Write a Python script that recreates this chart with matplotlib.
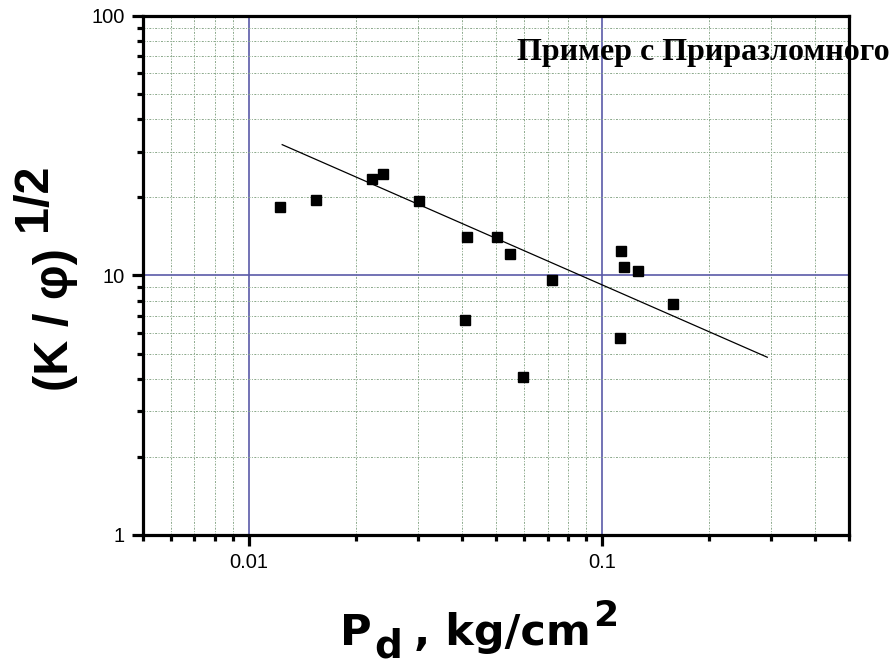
import numpy as np
import matplotlib
matplotlib.use('Agg')
import matplotlib.pyplot as plt
from matplotlib.ticker import LogLocator, FixedLocator, FixedFormatter, NullFormatter

plt.rcParams['font.family'] = ['Liberation Sans', 'DejaVu Sans']

W, H = 893, 669

# measured points
pd_vals = [0.0122, 0.0155, 0.0223, 0.0240, 0.0303, 0.0415, 0.0409, 0.0504,
           0.0549, 0.0597, 0.0722, 0.1132, 0.1154, 0.1265, 0.1589, 0.1124]
k_phi = [18.4, 19.6, 23.6, 24.5, 19.3, 14.1, 6.71, 14.1,
         12.05, 4.05, 9.57, 12.37, 10.8, 10.36, 7.74, 5.72]

# regression line end points
fit_x = [0.0124, 0.293]
fit_y = [31.9, 4.84]

xticks = [0.01, 0.1]
xticklabels = ['0.01', '0.1']
yticks = [1, 10, 100]
yticklabels = ['1', '10', '100']

fig = plt.figure(figsize=(W / 100, H / 100), dpi=100)
ax = fig.add_axes([0.160, 0.2003, 0.791, 0.776])
ax.set_xscale('log')
ax.set_yscale('log')
ax.set_xlim(0.005, 0.5)
ax.set_ylim(1, 100)

ax.grid(which='minor', color='#8aa88a', linestyle=(0, (2, 1.5, 1, 1.5)), linewidth=0.7)
ax.grid(which='major', color='#5a5aa8', linestyle='-', linewidth=1.2)
ax.set_axisbelow(True)

ax.plot(fit_x, fit_y, color='black', linewidth=0.9)
ax.plot(pd_vals, k_phi, 's', color='black', markersize=6.5, linestyle='none')

ax.xaxis.set_major_locator(FixedLocator(xticks))
ax.xaxis.set_major_formatter(FixedFormatter(xticklabels))
ax.yaxis.set_major_locator(FixedLocator(yticks))
ax.yaxis.set_major_formatter(FixedFormatter(yticklabels))
ax.xaxis.set_minor_locator(LogLocator(base=10, subs=np.arange(2, 10)))
ax.yaxis.set_minor_locator(LogLocator(base=10, subs=np.arange(2, 10)))
ax.xaxis.set_minor_formatter(NullFormatter())
ax.yaxis.set_minor_formatter(NullFormatter())

for s in ax.spines.values():
    s.set_linewidth(2.3)
ax.tick_params(which='major', direction='out', length=8, width=2.3, labelsize=14.5, pad=5)
ax.tick_params(which='minor', direction='out', length=4, width=2.3)

# x label built from pieces: big subscript and superscript
renderer = fig.canvas.get_renderer()


def piece(s, x, base, size):
    t = fig.text(x / W, 1 - base / H, s, fontsize=size, fontweight='bold',
                 family='DejaVu Sans', ha='left', va='baseline')
    return t.get_window_extent(renderer).x1


x = piece('P', 340, 645, 31)
x = piece('d', x + 3, 657, 28)
x = piece(', kg/cm', x + 12, 645, 31)
piece('2', x + 2, 626, 26)

# y label with a full-size raised exponent
fig.text(56 / W, 1 - 320 / H, '(K / φ)', rotation=90, ha='center', va='center',
         fontsize=35, fontweight='bold')
fig.text(34 / W, 1 - 197 / H, '1/2', rotation=90, ha='center', va='center',
         fontsize=35, fontweight='bold')

ax.text(0.53, 0.93, 'Пример с Приразломного', transform=ax.transAxes,
        ha='left', va='center', fontsize=23, fontweight='bold',
        family='Liberation Serif', clip_on=False)

fig.savefig('out.png', dpi=100)
